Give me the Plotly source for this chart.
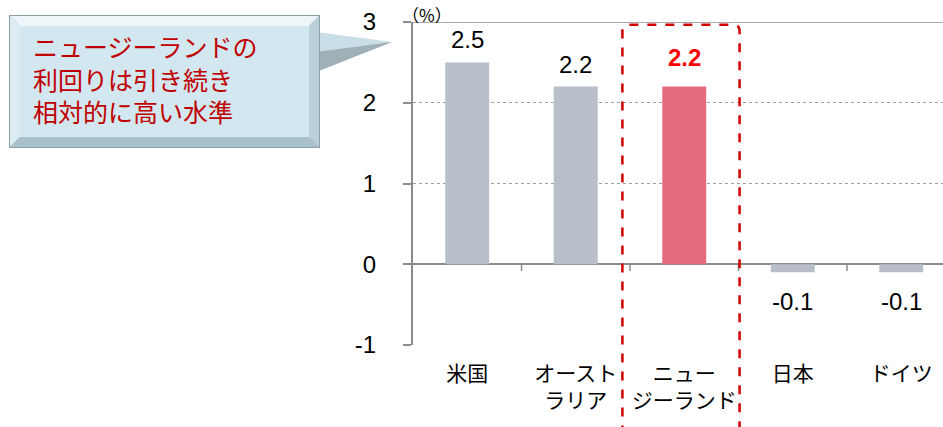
import plotly.graph_objects as go

# ---- data ----
categories = ["米国", "オースト<br>ラリア", "ニュー<br>ジーランド", "日本", "ドイツ"]
yields = [2.5, 2.2, 2.2, -0.1, -0.1]
highlight_index = 2
y_ticks = [-1, 0, 1, 2, 3]
callout_lines = ["ニュージーランドの", "利回りは引き続き", "相対的に高い水準"]
unit_label = "（%）"

# ---- style ----
W, H = 943, 427
L, R, T, B = 413, 943, 22, 345
PW, PH = R - L, B - T
XMIN, XMAX = -0.5, 4.385
YMIN, YMAX = -1, 3
GREY_BAR = "#B8BFCB"
RED_BAR = "#E56C7C"
AXIS = "#8C8C8C"
NUM_FONT = "Liberation Sans, Arial, Noto Sans CJK JP, sans-serif"
JP_FONT = "Noto Sans CJK JP, sans-serif"


def pxx(xp):
    return (xp - L) / PW


def pxy(yp):
    return (B - yp) / PH


def dx(xd):
    return (xd - XMIN) / (XMAX - XMIN)


colors = [RED_BAR if i == highlight_index else GREY_BAR for i in range(len(categories))]

fig = go.Figure()
fig.add_trace(go.Bar(
    x=categories, y=yields, marker_color=colors, marker_line_width=0,
    width=0.405, hoverinfo="skip", showlegend=False,
))

annotations = []
for i, (c, v) in enumerate(zip(categories, yields)):
    hi = i == highlight_index
    annotations.append(dict(
        x=c, y=v, xref="x", yref="y", text=f"{v:.1f}", showarrow=False,
        yanchor="bottom" if v >= 0 else "top",
        yshift=(14 if hi else 7) if v >= 0 else -14,
        font=dict(family=NUM_FONT, size=24, color="#FF0000" if hi else "#000000",
                  weight="bold" if hi else "normal"),
    ))

# unit label
annotations.append(dict(x=pxx(427), y=pxy(0), xref="paper", yref="paper", text=unit_label,
                        showarrow=False, xanchor="center", yanchor="top",
                        font=dict(family=JP_FONT, size=17, color="#000")))

# callout text (one block, left aligned)
annotations.append(dict(x=pxx(31), y=pxy(78.5), xref="paper", yref="paper",
                        text="<br>".join(callout_lines), showarrow=False,
                        xanchor="left", yanchor="middle", align="left",
                        font=dict(family=JP_FONT, size=25, color="#C00000")))

shapes = []
# callout box with bevel
bx0, by0, bx1, by1, bev = 9, 15, 320, 148, 10
def poly(pts, color):
    d = "M " + " L ".join(f"{pxx(a)},{pxy(b)}" for a, b in pts) + " Z"
    return dict(type="path", path=d, xref="paper", yref="paper", fillcolor=color,
                line=dict(width=0), layer="above")

# pointer
shapes.append(poly([(316, 32), (392, 42), (316, 72)], "#C9DEE6"))
shapes.append(poly([(316, 52), (392, 42), (316, 72)], "#9FB0B6"))
shapes.append(poly([(bx0, by0), (bx1, by0), (bx1, by1), (bx0, by1)], "#8E9FA5"))
ix0, iy0, ix1, iy1 = bx0 + 1, by0 + 1, bx1 - 1, by1 - 1
shapes.append(poly([(ix0, iy0), (ix1, iy0), (ix1 - bev, iy0 + bev), (ix0 + bev, iy0 + bev)], "#EEF6F9"))
shapes.append(poly([(ix0, iy0), (ix0 + bev, iy0 + bev), (ix0 + bev, iy1 - bev), (ix0, iy1)], "#DDECF2"))
shapes.append(poly([(ix0, iy1), (ix0 + bev, iy1 - bev), (ix1 - bev, iy1 - bev), (ix1, iy1)], "#A9C1CA"))
shapes.append(poly([(ix1, iy0), (ix1, iy1), (ix1 - bev, iy1 - bev), (ix1 - bev, iy0 + bev)], "#B9D0D8"))
shapes.append(poly([(ix0 + bev, iy0 + bev), (ix1 - bev, iy0 + bev), (ix1 - bev, iy1 - bev), (ix0 + bev, iy1 - bev)], "#D2E7EF"))

# top solid frame line at y=3
shapes.append(dict(type="line", xref="paper", yref="y", x0=pxx(405), x1=1, y0=YMAX, y1=YMAX,
                   line=dict(color=AXIS, width=1.5), layer="above"))
# category ticks on zero line
for i in range(len(categories)):
    shapes.append(dict(type="line", xref="x", yref="y", x0=i + 0.5, x1=i + 0.5, y0=0, y1=-0.085,
                       line=dict(color=AXIS, width=1.5), layer="above"))
# dashed highlight box
bl, br = dx(highlight_index - 0.57), dx(highlight_index + 0.51)
bt = (2.965 - YMIN) / (YMAX - YMIN)
bb = -0.5
r = 0.012
path = (f"M {bl},{bb} L {bl},{bt - r*1.6} Q {bl},{bt} {bl + r},{bt} "
        f"L {br - r},{bt} Q {br},{bt} {br},{bt - r*1.6} L {br},{bb}")
shapes.append(dict(type="path", path=path, xref="paper", yref="paper",
                   line=dict(color="#D00000", width=2.5, dash="dash"), layer="above"))

fig.update_layout(
    width=W, height=H,
    margin=dict(l=L, r=W - R, t=T, b=H - B, pad=0),
    paper_bgcolor="white", plot_bgcolor="white",
    bargap=0.5,
    xaxis=dict(type="category", range=[XMIN, XMAX], showgrid=False, showline=False,
               ticks="", ticklabelstandoff=14, zeroline=False,
               tickfont=dict(family=JP_FONT, size=21, color="#000")),
    yaxis=dict(range=[YMIN, YMAX], tickvals=y_ticks, ticktext=[str(t) for t in y_ticks],
               showgrid=True, gridcolor="#A0A0A0", griddash="dot", gridwidth=1,
               zeroline=True, zerolinecolor=AXIS, zerolinewidth=2,
               showline=True, linecolor=AXIS, linewidth=2,
               ticks="outside", ticklen=8, tickcolor=AXIS, tickwidth=1.5,
               ticklabelstandoff=22,
               tickfont=dict(family=NUM_FONT, size=24, color="#000")),
    annotations=annotations, shapes=shapes,
)

fig.write_html("out.html")
